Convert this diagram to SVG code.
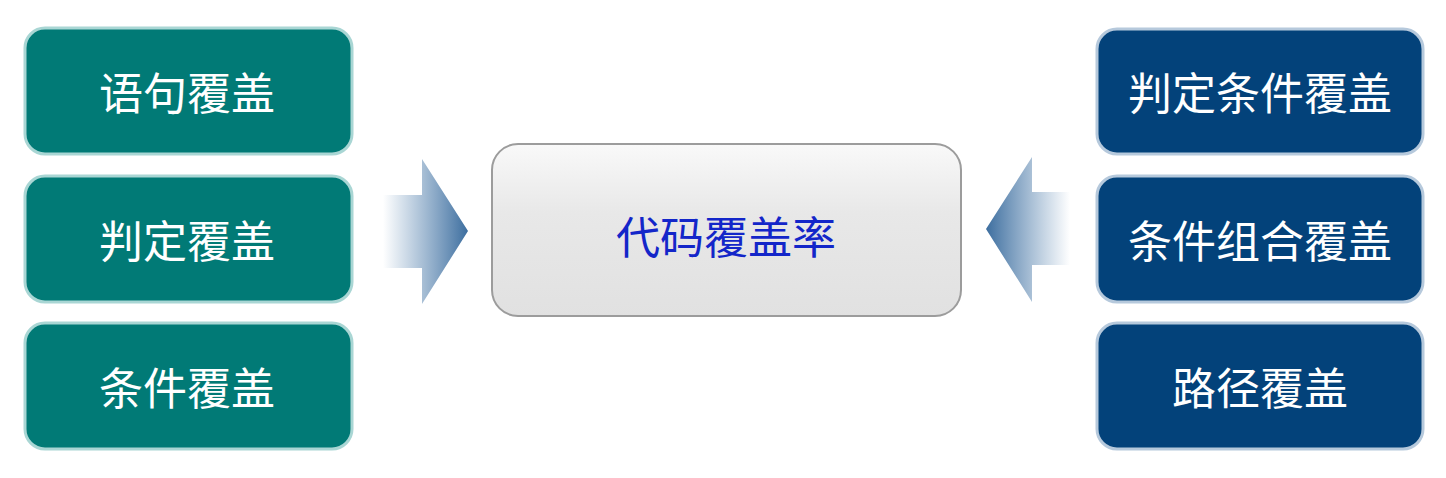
<svg xmlns="http://www.w3.org/2000/svg" width="1446" height="478" viewBox="0 0 1446 478">
  <defs>
    <linearGradient id="gBox" x1="0" y1="0" x2="0" y2="1">
      <stop offset="0" stop-color="#f9f9f9"/>
      <stop offset="0.4" stop-color="#e8e8e8"/>
      <stop offset="1" stop-color="#e1e1e1"/>
    </linearGradient>
    <linearGradient id="gArrR" x1="383" y1="0" x2="468" y2="0" gradientUnits="userSpaceOnUse">
      <stop offset="0" stop-color="#4a7bab" stop-opacity="0"/>
      <stop offset="1" stop-color="#3d6e9f"/>
    </linearGradient>
    <linearGradient id="gArrL" x1="1070" y1="0" x2="986" y2="0" gradientUnits="userSpaceOnUse">
      <stop offset="0" stop-color="#4a7bab" stop-opacity="0"/>
      <stop offset="1" stop-color="#3d6e9f"/>
    </linearGradient>
  </defs>
  <style>
    .teal { fill: #017a76; stroke: #a9d6d4; stroke-width: 3; }
    .navy { fill: #03427a; stroke: #b6c9dc; stroke-width: 3; }
    .lbl { font-family: "Noto Sans CJK SC", sans-serif; font-size: 44px; fill: #ffffff; text-anchor: middle; dominant-baseline: central; }
    .ctr { font-family: "Noto Sans CJK SC", sans-serif; font-size: 44px; fill: #1326c9; text-anchor: middle; dominant-baseline: central; }
  </style>
  <rect width="1446" height="478" fill="#ffffff"/>

  <g id="connectors">
    <polygon points="383,195 422,195 422,159 468,231 422,304 422,268 383,268" fill="url(#gArrR)"/>
    <polygon points="1070,192 1032,192 1032,157 986,229 1032,302 1032,265 1070,265" fill="url(#gArrL)"/>
  </g>

  <g id="center">
    <rect x="492" y="144" width="469" height="172" rx="26" fill="url(#gBox)" stroke="#9c9c9c" stroke-width="2"/>
    <text class="ctr" x="726" y="235">代码覆盖率</text>
  </g>

  <g id="n-yuju">
    <rect class="teal" x="25" y="28" width="327" height="126" rx="20"/>
    <text class="lbl" x="187" y="91">语句覆盖</text>
  </g>
  <g id="n-panding">
    <rect class="teal" x="25" y="176" width="327" height="126" rx="20"/>
    <text class="lbl" x="187" y="239">判定覆盖</text>
  </g>
  <g id="n-tiaojian">
    <rect class="teal" x="25" y="323" width="327" height="126" rx="20"/>
    <text class="lbl" x="187" y="386">条件覆盖</text>
  </g>

  <g id="n-pdtj">
    <rect class="navy" x="1097" y="29" width="326" height="125" rx="20"/>
    <text class="lbl" x="1260" y="91">判定条件覆盖</text>
  </g>
  <g id="n-tjzh">
    <rect class="navy" x="1097" y="176" width="326" height="126" rx="20"/>
    <text class="lbl" x="1260" y="239">条件组合覆盖</text>
  </g>
  <g id="n-lujing">
    <rect class="navy" x="1097" y="323" width="326" height="126" rx="20"/>
    <text class="lbl" x="1260" y="386">路径覆盖</text>
  </g>
</svg>
